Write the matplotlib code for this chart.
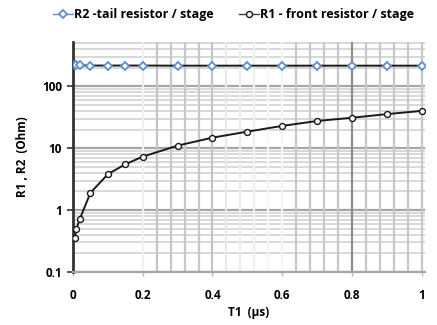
import numpy as np
import matplotlib.pyplot as plt
from matplotlib.ticker import FixedLocator, NullFormatter

# data
t1 = [0.005, 0.01, 0.02, 0.05, 0.1, 0.15, 0.2, 0.3, 0.4, 0.5, 0.6, 0.7, 0.8, 0.9, 1.0]
r2_tail = [218, 218, 218, 216, 216, 216, 216, 215, 215, 215, 215, 215, 215, 215, 215]
r1_front = [0.36, 0.5, 0.73, 1.9, 3.8, 5.5, 7.3, 11, 14.8, 18.5, 22.9, 27.5, 31, 35.5, 40]

x_ticks = [0, 0.2, 0.4, 0.6, 0.8, 1]
x_tick_labels = ['0', '0.2', '0.4', '0.6', '0.8', '1']
y_ticks = [0.1, 1, 10, 100]
y_tick_labels = ['0.1', '1', '10', '100']

plt.rcParams['font.family'] = ['Open Sans', 'DejaVu Sans']
plt.rcParams['font.weight'] = 'bold'

fig = plt.figure(figsize=(4.37, 3.25), dpi=100)
ax = fig.add_axes([0.167, 0.163, 0.806, 0.708])

ax.set_yscale('log')
ax.set_xlim(0, 1.01)
ax.set_ylim(0.1, 520)

# horizontal grid: decades darker, sub-decades lighter
for dec in [0.1, 1, 10, 100]:
    ax.axhline(dec, color='#a6a6a6', lw=1.6, zorder=0)
    for m in range(2, 10):
        if dec * m <= 520:
            ax.axhline(dec * m, color='#d8d8d8', lw=1.4, zorder=0)

# vertical grid, scanned look: uneven greys
v_pos = np.arange(0.2, 1.001, 0.04)
v_shade = ['#f0f0f0', '#c4c4c4', '#c8c8c8', '#c8c8c8', '#c8c8c8', '#c4c4c4',
           '#e8e8e8', '#ececec', '#f0f0f0', '#f6f6f6', '#f6f6f6', '#c8c8c8',
           '#c8c8c8', '#c8c8c8', '#c8c8c8', '#8c8c8c', '#c8c8c8', '#c8c8c8',
           '#c8c8c8', '#c8c8c8', '#c8c8c8']
for xv, c in zip(v_pos, v_shade):
    ax.axvline(xv, color=c, lw=1.6, zorder=0)

ax.plot(t1, r2_tail, color='#1a1a1a', lw=1.4, marker='D', ms=3.8,
        mfc='white', mec='#5b8fd0', mew=1.3, label='R2 -tail resistor / stage', zorder=3)
ax.plot(t1, r1_front, color='#1a1a1a', lw=1.4, marker='o', ms=4.3,
        mfc='white', mec='#1a1a1a', mew=1.0, label='R1 - front resistor / stage', zorder=3)

ax.xaxis.set_major_locator(FixedLocator(x_ticks))
ax.set_xticklabels(x_tick_labels, fontweight='bold')
ax.yaxis.set_major_locator(FixedLocator(y_ticks))
ax.set_yticklabels(y_tick_labels, fontweight='bold')
ax.yaxis.set_minor_formatter(NullFormatter())
ax.tick_params(axis='y', which='minor', length=0)
ax.tick_params(axis='y', which='major', length=4, width=1.2, color='#333333',
               labelsize=8.5, pad=4)
ax.tick_params(axis='x', length=3, width=1, color='#bbbbbb', labelsize=8.5, pad=9)

for side in ['top', 'right']:
    ax.spines[side].set_visible(False)
ax.spines['left'].set_color('#333333')
ax.spines['left'].set_linewidth(2)
ax.spines['bottom'].set_color('#a6a6a6')
ax.spines['bottom'].set_linewidth(1.6)

ax.set_xlabel('T1  (\u00b5s)', fontsize=8.5, fontweight='bold', labelpad=3)
ax.set_ylabel('R1 , R2  (Ohm)', fontsize=8.5, fontweight='bold', labelpad=9)

leg = fig.legend(loc='upper center', bbox_to_anchor=(0.535, 1.01), ncol=2,
                 frameon=False, prop={'size': 9, 'weight': 'bold'},
                 handlelength=1.6, columnspacing=2.0, handletextpad=0.1)
leg.get_lines()[0].set_color('#5b8fd0')
leg.get_lines()[0].set_linewidth(1.0)
leg.get_lines()[1].set_color('#404040')
leg.get_lines()[1].set_linewidth(1.0)

fig.savefig('out.png', dpi=100)
